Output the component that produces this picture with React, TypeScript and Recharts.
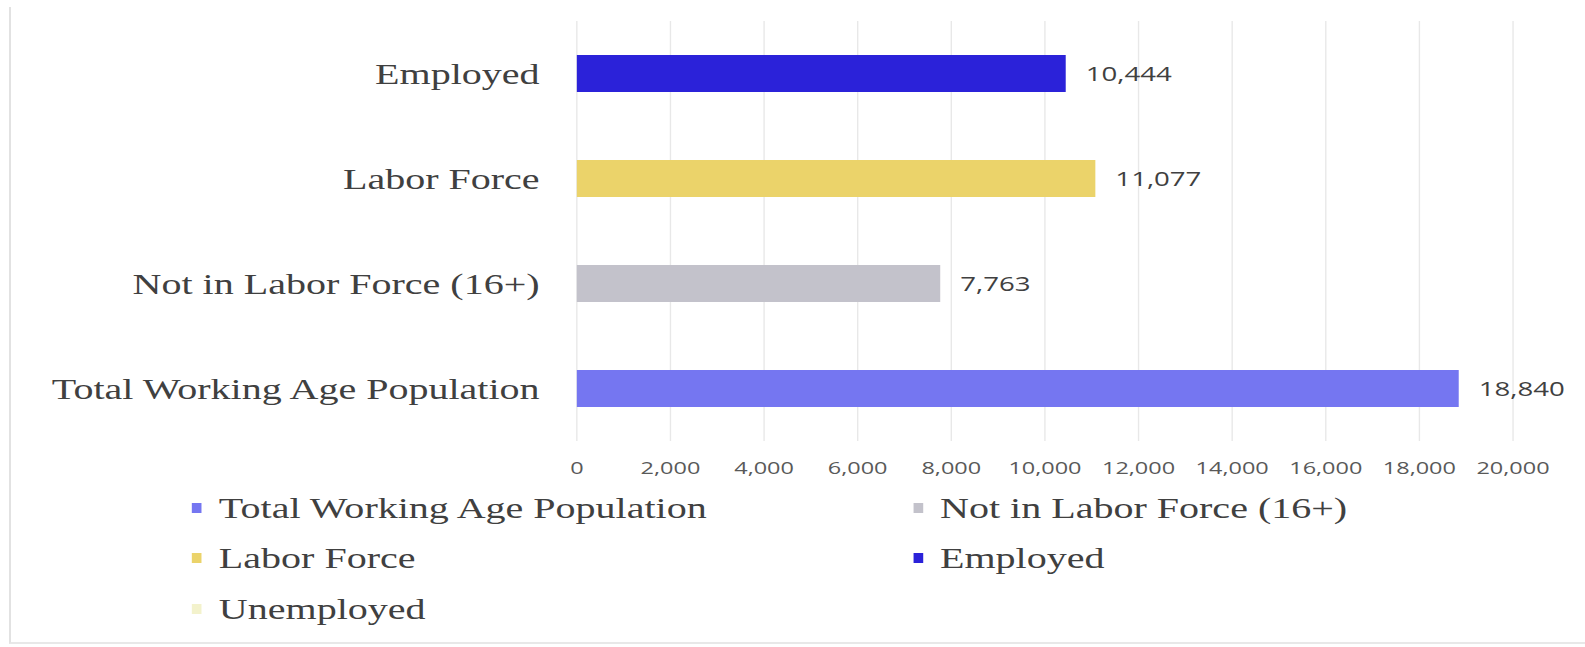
import { BarChart, Bar, XAxis, YAxis, CartesianGrid, Legend, LabelList } from "recharts";

// the source picture is a horizontally stretched screenshot, so the chart is
// drawn narrower and stretched back with scaleX
const STRETCH = 1.38;
const WIDTH = 1149;
const HEIGHT = 647;

const categories = ["Employed", "Labor Force", "Not in Labor Force (16+)", "Total Working Age Population"];
const categoryKeys = ["employed", "labor", "notLF", "total"];
const counts = [10444, 11077, 7763, 18840];

// legend / series order
const seriesKeys = ["total", "notLF", "labor", "employed", "unemployed"];
const seriesNames = ["Total Working Age Population", "Not in Labor Force (16+)", "Labor Force", "Employed", "Unemployed"];
const seriesColors = ["#7576f1", "#c3c2cb", "#ebd36a", "#2b22d9", "#f3f2cc"];

const xTicks = [0, 2000, 4000, 6000, 8000, 10000, 12000, 14000, 16000, 18000, 20000];

const data = categories.map((name, i) => ({ name, [categoryKeys[i]]: counts[i] }));

const fmt = (v: any) => Number(v).toLocaleString("en-US");

const serif = "'Liberation Serif', 'Times New Roman', serif";
const sans = "'Open Sans', sans-serif";

const legendCols = [139, 661.6];
const legendRows = [25, 75, 126];

function LegendBox({ payload }: any) {
    const items = [...(payload || [])].sort(
        (a: any, b: any) => seriesNames.indexOf(a.value) - seriesNames.indexOf(b.value)
    );
    return (
        <div style={{ position: "relative", width: WIDTH, height: 150 }}>
            {items.map((item: any, i: number) => (
                <div
                    key={item.value}
                    style={{
                        position: "absolute",
                        left: legendCols[i % 2],
                        top: legendRows[Math.floor(i / 2)] - 17,
                        height: 34,
                        display: "flex",
                        alignItems: "center",
                        whiteSpace: "nowrap",
                    }}
                >
                    <span style={{ display: "inline-block", width: 7, height: 10, background: item.color, marginRight: 12.6 }} />
                    <span style={{ fontFamily: serif, fontSize: 29, color: "#404040", lineHeight: "34px" }}>{item.value}</span>
                </div>
            ))}
        </div>
    );
}

export default function App() {
    return (
        <div style={{ position: "absolute", left: 0, top: 0, width: 1585, height: HEIGHT, background: "#fff", overflow: "hidden" }}>
            <div
                style={{
                    position: "absolute",
                    left: 9,
                    top: 7,
                    width: 1600,
                    height: 635,
                    borderLeft: "2px solid #e2e2e2",
                    borderBottom: "2px solid #e8e8e8",
                }}
            />
            <div style={{ position: "absolute", left: 0, top: 0, transform: `scaleX(${STRETCH})`, transformOrigin: "0 0" }}>
                <BarChart
                    width={WIDTH}
                    height={HEIGHT}
                    data={data}
                    layout="vertical"
                    margin={{ top: 21, right: 52.6, bottom: 166, left: 0 }}
                    barSize={37}
                >
                    <CartesianGrid horizontal={false} stroke="#e8e8e8" />
                    <XAxis
                        type="number"
                        domain={[0, 20000]}
                        ticks={xTicks}
                        interval={0}
                        tickFormatter={fmt}
                        axisLine={false}
                        tickLine={false}
                        tickSize={0}
                        tickMargin={21}
                        height={40}
                        tick={{ fontFamily: sans, fontSize: 17, fill: "#595959" }}
                    />
                    <YAxis
                        type="category"
                        dataKey="name"
                        width={418}
                        axisLine={false}
                        tickLine={false}
                        tickSize={0}
                        tickMargin={27}
                        interval={0}
                        tick={{ fontFamily: serif, fontSize: 29, fill: "#404040" }}
                    />
                    <Legend
                        layout="vertical"
                        verticalAlign="middle"
                        align="center"
                        wrapperStyle={{ left: 0, top: 483, width: WIDTH, height: 150 }}
                        content={<LegendBox />}
                    />
                    {seriesKeys.map((key, i) => (
                        <Bar key={key} dataKey={key} name={seriesNames[i]} stackId="a" fill={seriesColors[i]} isAnimationActive={false}>
                            <LabelList
                                dataKey={key}
                                position="right"
                                offset={14.5}
                                formatter={fmt}
                                fontFamily={sans}
                                fontSize={20}
                                fill="#404040"
                            />
                        </Bar>
                    ))}
                </BarChart>
            </div>
        </div>
    );
}
